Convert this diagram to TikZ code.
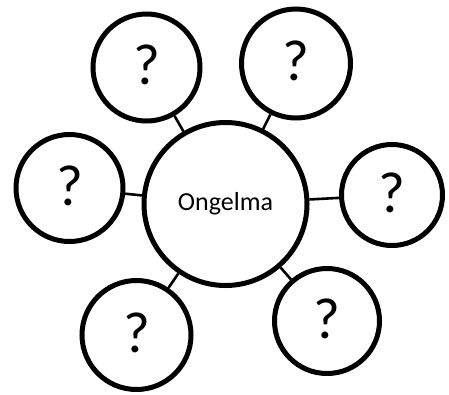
\documentclass[tikz,border=0pt]{standalone}
\usepackage{fontspec}
\setmainfont{Carlito}
\begin{document}
\begin{tikzpicture}[x=1pt,y=-1pt,
  hub/.style={circle,draw=black,line width=5pt,fill=white,minimum size=163pt,inner sep=0pt,font=\fontsize{26}{30}\selectfont},
  leaf/.style={circle,draw=black,line width=5pt,fill=white,minimum size=#1,inner sep=0pt,font=\fontsize{58}{64}\selectfont,text depth=5pt},
  leaf/.default=107pt,
  link/.style={line width=2.6pt,black}]
\useasboundingbox (0,0) rectangle (449,394);
\node[hub] (c) at (225.5,204) {Ongelma};
\node[leaf] (tl) at (146.5,67.5) {?};
\node[leaf=109pt] (tr) at (296,63.5) {?};
\node[leaf] (l) at (69.5,188) {?};
\node[leaf=101pt] (r) at (392,195) {?};
\node[leaf=109pt] (bl) at (136.5,335) {?};
\node[leaf=105pt] (br) at (327,321) {?};
\foreach \n in {tl,tr,l,r,bl,br} \draw[link] (c) -- (\n);
\end{tikzpicture}
\end{document}
